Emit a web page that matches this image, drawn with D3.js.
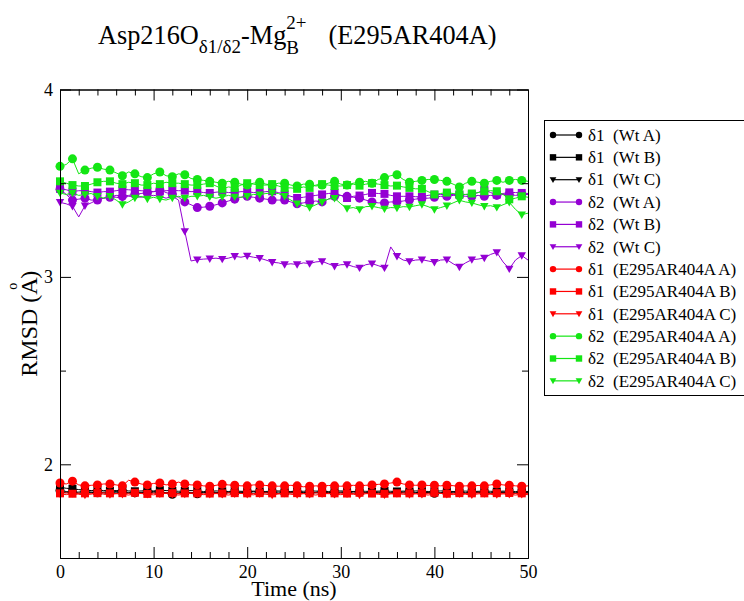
<!DOCTYPE html>
<html><head><meta charset="utf-8">
<script src="https://cdn.jsdelivr.net/npm/d3@7"></script>
<style>
html,body{margin:0;padding:0;background:#fff;}
svg{display:block;}
text{font-family:"Liberation Serif","Times New Roman",serif;fill:#000;}
</style>
</head><body>
<svg id="chart" width="744" height="601" xmlns="http://www.w3.org/2000/svg"></svg>
<script>
// ---------- data ----------
const xTicks = [0, 10, 20, 30, 40, 50];
const xMinorTicks = [2, 4, 6, 8, 12, 14, 16, 18, 22, 24, 26, 28, 32, 34, 36, 38, 42, 44, 46, 48];
const yTicks = [2, 3, 4];
const yMinorTicks = [2.5, 3.5];

const seriesNames = [
  "δ1  (Wt A)", "δ1  (Wt B)", "δ1  (Wt C)",
  "δ2  (Wt A)", "δ2  (Wt B)", "δ2  (Wt C)",
  "δ1  (E295AR404A A)", "δ1  (E295AR404A B)", "δ1  (E295AR404A C)",
  "δ2  (E295AR404A A)", "δ2  (E295AR404A B)", "δ2  (E295AR404A C)"
];
const seriesColors = ["#000000","#000000","#000000","#9400d3","#9400d3","#9400d3",
                      "#ff0000","#ff0000","#ff0000","#14e614","#14e614","#14e614"];
const seriesSymbols = ["circle","square","triangle","circle","square","triangle",
                       "circle","square","triangle","circle","square","triangle"];

// sampling grid of the time series (ns), one sample every 2/3 ns; a symbol every 2nd sample
const sampleStep = 2 / 3;
const sampleCount = 76;
const timeNs = d3.range(sampleCount).map(i => i * sampleStep);

const d1WtA = [1.860,1.855,1.850,1.852,1.855,1.850,1.848,1.852,1.850,1.855,1.852,1.850,1.848,1.850,1.852,1.855,1.850,1.845,1.840,1.848,
  1.850,1.845,1.843,1.850,1.852,1.850,1.848,1.852,1.850,1.848,1.852,1.855,1.850,1.848,1.850,1.852,1.850,1.848,1.852,1.850,
  1.848,1.850,1.852,1.850,1.848,1.852,1.850,1.855,1.850,1.848,1.850,1.852,1.850,1.848,1.850,1.852,1.855,1.850,1.848,1.850,
  1.845,1.848,1.850,1.852,1.850,1.848,1.850,1.852,1.850,1.848,1.850,1.852,1.850,1.848,1.850,1.850];
const d1WtB = [1.878,1.872,1.870,1.865,1.862,1.860,1.862,1.860,1.858,1.860,1.862,1.858,1.856,1.858,1.860,1.858,1.862,1.860,1.858,1.856,
  1.858,1.860,1.858,1.855,1.856,1.858,1.856,1.855,1.858,1.856,1.855,1.857,1.856,1.855,1.857,1.858,1.856,1.855,1.857,1.856,
  1.858,1.857,1.856,1.855,1.857,1.858,1.856,1.855,1.857,1.856,1.855,1.857,1.858,1.856,1.855,1.857,1.856,1.858,1.857,1.855,
  1.856,1.858,1.857,1.855,1.856,1.857,1.855,1.856,1.858,1.856,1.855,1.857,1.856,1.855,1.856,1.855];
const d1WtC = [1.852,1.848,1.850,1.846,1.848,1.852,1.850,1.847,1.845,1.848,1.850,1.846,1.848,1.850,1.852,1.848,1.846,1.850,1.848,1.845,
  1.848,1.850,1.847,1.848,1.850,1.846,1.845,1.848,1.850,1.852,1.848,1.846,1.848,1.850,1.847,1.845,1.848,1.850,1.852,1.848,
  1.846,1.848,1.850,1.848,1.845,1.848,1.850,1.847,1.848,1.850,1.852,1.848,1.846,1.848,1.850,1.848,1.845,1.847,1.850,1.848,
  1.846,1.848,1.850,1.852,1.848,1.846,1.848,1.850,1.847,1.845,1.848,1.850,1.848,1.846,1.848,1.848];
const d2WtA = [3.468,3.440,3.410,3.415,3.420,3.410,3.410,3.420,3.425,3.435,3.430,3.435,3.440,3.445,3.450,3.455,3.465,3.450,3.440,3.425,
  3.400,3.385,3.370,3.372,3.377,3.385,3.395,3.405,3.415,3.425,3.430,3.425,3.420,3.415,3.410,3.410,3.410,3.400,3.390,3.395,
  3.400,3.405,3.400,3.415,3.430,3.435,3.430,3.425,3.420,3.410,3.400,3.395,3.395,3.400,3.400,3.405,3.410,3.415,3.420,3.420,
  3.425,3.430,3.430,3.435,3.435,3.430,3.430,3.435,3.430,3.435,3.435,3.440,3.440,3.435,3.440,3.440];
const d2WtB = [3.470,3.465,3.455,3.460,3.460,3.455,3.450,3.455,3.455,3.460,3.466,3.465,3.462,3.460,3.457,3.455,3.457,3.460,3.462,3.460,
  3.460,3.455,3.457,3.450,3.448,3.452,3.455,3.450,3.450,3.455,3.455,3.450,3.450,3.455,3.457,3.450,3.440,3.430,3.421,3.425,
  3.430,3.435,3.440,3.445,3.448,3.435,3.421,3.430,3.434,3.440,3.448,3.445,3.443,3.435,3.430,3.430,3.430,3.428,3.427,3.435,
  3.439,3.440,3.439,3.440,3.439,3.440,3.439,3.450,3.466,3.450,3.439,3.445,3.451,3.450,3.448,3.445];
const d2WtC = [3.398,3.390,3.377,3.320,3.380,3.395,3.412,3.420,3.430,3.425,3.420,3.430,3.430,3.425,3.430,3.435,3.430,3.420,3.430,3.410,
  3.243,3.085,3.092,3.095,3.097,3.100,3.095,3.100,3.110,3.105,3.112,3.105,3.100,3.090,3.078,3.075,3.066,3.070,3.066,3.075,
  3.071,3.080,3.083,3.070,3.057,3.065,3.066,3.055,3.048,3.065,3.071,3.060,3.048,3.160,3.110,3.090,3.083,3.090,3.092,3.085,
  3.078,3.090,3.092,3.070,3.053,3.075,3.092,3.095,3.101,3.120,3.131,3.080,3.043,3.090,3.114,3.090];
const d1EA = [1.900,1.895,1.910,1.890,1.885,1.888,1.890,1.895,1.895,1.890,1.885,1.915,1.905,1.895,1.890,1.898,1.900,1.890,1.895,1.905,
  1.895,1.890,1.890,1.885,1.883,1.888,1.893,1.890,1.888,1.885,1.885,1.890,1.890,1.887,1.885,1.883,1.885,1.888,1.885,1.880,
  1.883,1.885,1.883,1.887,1.885,1.883,1.885,1.888,1.885,1.888,1.890,1.893,1.895,1.900,1.905,1.895,1.890,1.888,1.890,1.887,
  1.888,1.885,1.888,1.886,1.883,1.885,1.885,1.887,1.885,1.890,1.895,1.890,1.888,1.885,1.883,1.885];
const d1EB = [1.845,1.848,1.843,1.846,1.845,1.842,1.846,1.848,1.845,1.843,1.846,1.845,1.848,1.844,1.842,1.846,1.845,1.848,1.846,1.843,
  1.845,1.847,1.845,1.842,1.844,1.846,1.845,1.848,1.846,1.844,1.845,1.843,1.846,1.848,1.845,1.843,1.845,1.847,1.846,1.844,
  1.845,1.848,1.846,1.843,1.845,1.846,1.844,1.845,1.848,1.846,1.844,1.845,1.843,1.846,1.845,1.847,1.845,1.843,1.846,1.845,
  1.848,1.845,1.843,1.845,1.846,1.844,1.845,1.847,1.845,1.843,1.846,1.845,1.847,1.844,1.845,1.845];
const d1EC = [1.842,1.838,1.845,1.840,1.836,1.842,1.848,1.840,1.838,1.844,1.840,1.836,1.843,1.846,1.840,1.837,1.842,1.845,1.840,1.836,
  1.841,1.846,1.842,1.838,1.840,1.844,1.840,1.836,1.842,1.845,1.840,1.837,1.843,1.840,1.836,1.842,1.845,1.840,1.838,1.843,
  1.840,1.836,1.842,1.846,1.840,1.838,1.842,1.840,1.836,1.843,1.845,1.840,1.837,1.842,1.844,1.840,1.838,1.843,1.840,1.836,
  1.842,1.845,1.840,1.838,1.843,1.840,1.837,1.842,1.844,1.840,1.838,1.842,1.840,1.836,1.840,1.838];
const d2EA = [3.590,3.600,3.630,3.550,3.570,3.580,3.585,3.575,3.570,3.555,3.540,3.560,3.550,3.535,3.530,3.550,3.560,3.540,3.535,3.550,
  3.545,3.525,3.520,3.515,3.510,3.505,3.500,3.510,3.505,3.495,3.490,3.500,3.505,3.495,3.490,3.500,3.500,3.490,3.485,3.495,
  3.495,3.485,3.490,3.500,3.510,3.495,3.490,3.500,3.505,3.510,3.500,3.520,3.530,3.540,3.545,3.520,3.505,3.510,3.515,3.520,
  3.520,3.515,3.510,3.495,3.480,3.500,3.510,3.505,3.500,3.510,3.515,3.505,3.515,3.520,3.515,3.510];
const d2EB = [3.510,3.500,3.490,3.485,3.485,3.495,3.505,3.510,3.510,3.500,3.495,3.505,3.500,3.490,3.490,3.500,3.495,3.505,3.500,3.500,
  3.495,3.490,3.490,3.495,3.500,3.485,3.470,3.480,3.475,3.490,3.500,3.495,3.490,3.490,3.495,3.485,3.475,3.475,3.470,3.480,
  3.475,3.490,3.495,3.490,3.485,3.485,3.490,3.495,3.487,3.495,3.500,3.495,3.490,3.485,3.487,3.480,3.475,3.470,3.470,3.455,
  3.440,3.445,3.450,3.445,3.440,3.440,3.445,3.450,3.457,3.460,3.457,3.440,3.414,3.420,3.430,3.425];
const d2EC = [3.448,3.440,3.448,3.435,3.440,3.445,3.430,3.420,3.430,3.410,3.386,3.400,3.421,3.430,3.416,3.425,3.416,3.410,3.421,3.430,
  3.421,3.430,3.430,3.435,3.427,3.420,3.427,3.435,3.427,3.425,3.430,3.440,3.439,3.445,3.448,3.445,3.430,3.410,3.390,3.380,
  3.370,3.385,3.400,3.415,3.420,3.390,3.365,3.370,3.360,3.375,3.377,3.370,3.363,3.370,3.368,3.375,3.373,3.380,3.386,3.375,
  3.360,3.370,3.380,3.395,3.409,3.400,3.395,3.385,3.377,3.380,3.371,3.385,3.398,3.360,3.332,3.340];

const seriesValues = [d1WtA, d1WtB, d1WtC, d2WtA, d2WtB, d2WtC, d1EA, d1EB, d1EC, d2EA, d2EB, d2EC];

// ---------- layout ----------
const svg = d3.select("#chart");
svg.append("rect").attr("width", 744).attr("height", 601).attr("fill", "#fff");

const plot = {left: 60, right: 528, top: 89.5, bottom: 558};
const x = d3.scaleLinear().domain([0, 50]).range([plot.left, plot.right]);
const y = d3.scaleLinear().domain([1.5, 4]).range([plot.bottom, plot.top]);

function symbolPath(kind, s) {
  if (kind === "circle") return d3.symbol(d3.symbolCircle, Math.PI * s * s)();
  if (kind === "square") return `M${-s},${-s}H${s}V${s}H${-s}Z`;
  // downward triangle
  return `M${-s * 1.05},${-s * 0.8}H${s * 1.05}L0,${s * 1.05}Z`;
}

// series
const line = d3.line().x(d => x(d[0])).y(d => y(d[1]));
const gSeries = svg.append("g");
seriesValues.forEach((vals, k) => {
  const pts = vals.map((v, i) => [timeNs[i], v]);
  const g = gSeries.append("g");
  g.append("path").attr("d", line(pts)).attr("fill", "none")
    .attr("stroke", seriesColors[k]).attr("stroke-width", 1);
  const sym = symbolPath(seriesSymbols[k], seriesSymbols[k] === "circle" ? 4.5 : 4);
  g.selectAll("path.m").data(pts.filter((p, i) => i % 2 === 0)).join("path")
    .attr("class", "m").attr("d", sym)
    .attr("transform", d => `translate(${x(d[0])},${y(d[1])})`)
    .attr("fill", seriesColors[k]);
});

// axes
const tickFont = "18px";
function styleAxis(g) {
  g.selectAll("path.domain").attr("stroke", "#000").attr("stroke-width", 1);
  g.selectAll(".tick line").attr("stroke", "#000").attr("stroke-width", 1);
  g.selectAll("text").style("font-family", '"Liberation Serif", serif').style("font-size", tickFont).attr("fill", "#000");
}
const gx = svg.append("g").attr("transform", `translate(0,${plot.bottom})`)
  .call(d3.axisBottom(x).tickValues(xTicks).tickSize(-11).tickSizeOuter(0).tickPadding(7).tickFormat(d3.format("d")));
styleAxis(gx);
svg.append("g").attr("transform", `translate(0,${plot.bottom})`)
  .call(d3.axisBottom(x).tickValues(xMinorTicks).tickSize(-6).tickSizeOuter(0).tickFormat("")).call(styleAxis);
svg.append("g").attr("transform", `translate(0,${plot.top})`)
  .call(d3.axisTop(x).tickValues(xTicks).tickSize(-11).tickSizeOuter(0).tickFormat("")).call(styleAxis);
svg.append("g").attr("transform", `translate(0,${plot.top})`)
  .call(d3.axisTop(x).tickValues(xMinorTicks).tickSize(-6).tickSizeOuter(0).tickFormat("")).call(styleAxis);
const gy = svg.append("g").attr("transform", `translate(${plot.left},0)`)
  .call(d3.axisLeft(y).tickValues(yTicks).tickSize(-11).tickSizeOuter(0).tickPadding(7).tickFormat(d3.format("d")));
styleAxis(gy);
svg.append("g").attr("transform", `translate(${plot.left},0)`)
  .call(d3.axisLeft(y).tickValues(yMinorTicks).tickSize(-6).tickSizeOuter(0).tickFormat("")).call(styleAxis);
svg.append("g").attr("transform", `translate(${plot.right},0)`)
  .call(d3.axisRight(y).tickValues(yTicks).tickSize(-11).tickSizeOuter(0).tickFormat("")).call(styleAxis);
svg.append("g").attr("transform", `translate(${plot.right},0)`)
  .call(d3.axisRight(y).tickValues(yMinorTicks).tickSize(-6).tickSizeOuter(0).tickFormat("")).call(styleAxis);

// axis titles
svg.append("text").attr("x", (plot.left + plot.right) / 2).attr("y", 596)
  .attr("text-anchor", "middle").style("font-size", "22px").text("Time (ns)");

const yl = svg.append("text").attr("transform", `translate(37,${(plot.top + plot.bottom) / 2}) rotate(-90)`)
  .attr("text-anchor", "middle").style("font-size", "24px");
yl.append("tspan").text("RMSD (A");
yl.append("tspan").attr("dx", -12.5).attr("dy", -20).style("font-size", "14px").text("o");
yl.append("tspan").attr("dx", 4).attr("dy", 20).text(")");

// title
const title = svg.append("text").attr("x", 98).attr("y", 44).style("font-size", "26.3px");
title.append("tspan").text("Asp216O");
title.append("tspan").attr("dy", 9).style("font-size", "19px").text("δ1/δ2");
title.append("tspan").attr("dy", -9).text("-Mg");
title.append("tspan").attr("dy", 10).style("font-size", "19px").text("B");
title.append("tspan").attr("dx", -12.7).attr("dy", -25).style("font-size", "19px").text("2+");
title.append("tspan").attr("dx", 22).attr("dy", 15).text("(E295AR404A)");

// legend
const leg = svg.append("g");
leg.append("rect").attr("x", 544.5).attr("y", 120.5).attr("width", 260).attr("height", 275)
  .attr("fill", "#fff").attr("stroke", "#000").attr("stroke-width", 1);
seriesNames.forEach((name, k) => {
  const cy = 135 + k * 22.35;
  leg.append("line").attr("x1", 553).attr("x2", 579).attr("y1", cy).attr("y2", cy)
    .attr("stroke", seriesColors[k]).attr("stroke-width", 1.2);
  const sym = symbolPath(seriesSymbols[k], 3.2);
  [553, 579].forEach(px => leg.append("path").attr("d", sym)
    .attr("transform", `translate(${px},${cy})`).attr("fill", seriesColors[k]));
  leg.append("text").attr("x", 588).attr("y", cy).attr("dy", "0.34em")
    .attr("xml:space", "preserve").style("white-space", "pre").style("font-size", "17px").text(name);
});
</script>
</body></html>
